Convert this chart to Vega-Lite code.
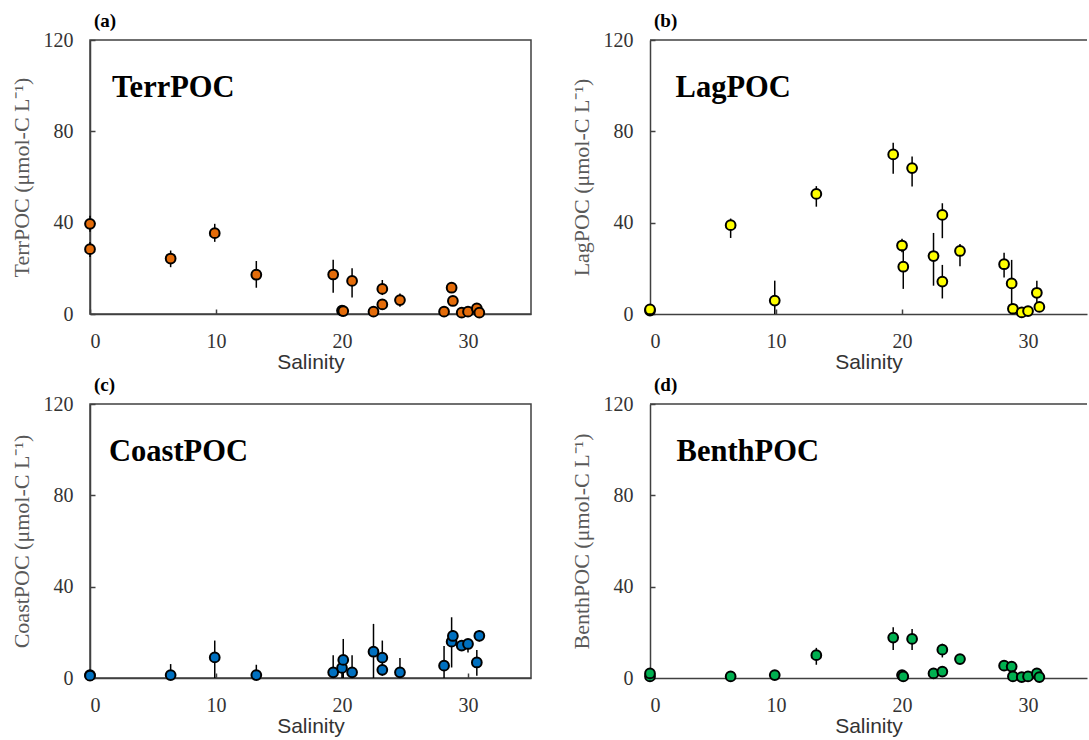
{
  "$schema": "https://vega.github.io/schema/vega-lite/v6.json",
  "background": "white",
  "padding": {"left": 9, "top": 11, "right": 0, "bottom": 0},
  "config": {
    "view": {"stroke": "#404040", "strokeWidth": 1.5}
  },
  "datasets": {
    "poc": [
      {"panel": "a", "salinity": 0, "value": 39.5, "lo": 36, "hi": 43},
      {"panel": "a", "salinity": 0, "value": 28.4, "lo": 25, "hi": 31.5},
      {"panel": "a", "salinity": 6.4, "value": 24.3, "lo": 20.5, "hi": 27.8},
      {"panel": "a", "salinity": 9.9, "value": 35.4, "lo": 31.6, "hi": 39.5},
      {"panel": "a", "salinity": 13.2, "value": 17.2, "lo": 11.5, "hi": 23.2},
      {"panel": "a", "salinity": 19.3, "value": 17.3, "lo": 9.3, "hi": 23.8},
      {"panel": "a", "salinity": 20.0, "value": 1.5, "lo": 1, "hi": 2},
      {"panel": "a", "salinity": 20.1, "value": 1.3, "lo": 0.5, "hi": 2},
      {"panel": "a", "salinity": 20.8, "value": 14.5, "lo": 7.2, "hi": 20},
      {"panel": "a", "salinity": 22.5, "value": 1, "lo": 0.5, "hi": 1.5},
      {"panel": "a", "salinity": 23.2, "value": 11, "lo": 8.3, "hi": 14.9},
      {"panel": "a", "salinity": 23.2, "value": 4.2, "lo": 2, "hi": 6},
      {"panel": "a", "salinity": 24.6, "value": 6.1, "lo": 3.2, "hi": 9},
      {"panel": "a", "salinity": 28.1, "value": 1, "lo": 0.5, "hi": 1.5},
      {"panel": "a", "salinity": 28.7, "value": 11.5, "lo": 10, "hi": 13},
      {"panel": "a", "salinity": 28.8, "value": 5.7, "lo": 4, "hi": 7.5},
      {"panel": "a", "salinity": 29.5, "value": 0.6, "lo": 0.3, "hi": 1},
      {"panel": "a", "salinity": 30.0, "value": 1, "lo": 0.5, "hi": 1.5},
      {"panel": "a", "salinity": 30.7, "value": 2.5, "lo": 1.5, "hi": 3.5},
      {"panel": "a", "salinity": 30.9, "value": 0.6, "lo": 0.3, "hi": 1},

      {"panel": "b", "salinity": 0, "value": 1.5, "lo": 1, "hi": 2},
      {"panel": "b", "salinity": 0, "value": 2, "lo": 1.5, "hi": 2.5},
      {"panel": "b", "salinity": 6.4, "value": 38.9, "lo": 33.3, "hi": 41.8},
      {"panel": "b", "salinity": 9.9, "value": 5.9, "lo": 0, "hi": 14.6},
      {"panel": "b", "salinity": 13.2, "value": 52.6, "lo": 47, "hi": 56},
      {"panel": "b", "salinity": 19.3, "value": 69.9, "lo": 61.4, "hi": 75},
      {"panel": "b", "salinity": 20.0, "value": 30, "lo": 27, "hi": 33},
      {"panel": "b", "salinity": 20.1, "value": 20.7, "lo": 11, "hi": 27.8},
      {"panel": "b", "salinity": 20.8, "value": 63.9, "lo": 55.8, "hi": 69},
      {"panel": "b", "salinity": 22.5, "value": 25.4, "lo": 12.4, "hi": 35.5},
      {"panel": "b", "salinity": 23.2, "value": 43.4, "lo": 33.2, "hi": 48.5},
      {"panel": "b", "salinity": 23.2, "value": 14.2, "lo": 6.8, "hi": 21.5},
      {"panel": "b", "salinity": 24.6, "value": 27.6, "lo": 20.9, "hi": 30.7},
      {"panel": "b", "salinity": 28.1, "value": 21.8, "lo": 16, "hi": 26.8},
      {"panel": "b", "salinity": 28.7, "value": 13.4, "lo": 2.9, "hi": 23.7},
      {"panel": "b", "salinity": 28.8, "value": 2.3, "lo": 1, "hi": 3.5},
      {"panel": "b", "salinity": 29.5, "value": 0.7, "lo": 0.3, "hi": 1.1},
      {"panel": "b", "salinity": 30.0, "value": 1.3, "lo": 0.8, "hi": 1.8},
      {"panel": "b", "salinity": 30.7, "value": 9.3, "lo": 5, "hi": 14.6},
      {"panel": "b", "salinity": 30.9, "value": 3.1, "lo": 1.5, "hi": 4.7},

      {"panel": "c", "salinity": 0, "value": 1.3, "lo": 0.8, "hi": 1.8},
      {"panel": "c", "salinity": 0, "value": 1.0, "lo": 0.5, "hi": 1.5},
      {"panel": "c", "salinity": 6.4, "value": 1.3, "lo": 0, "hi": 6.1},
      {"panel": "c", "salinity": 9.9, "value": 9, "lo": 0, "hi": 16.4},
      {"panel": "c", "salinity": 13.2, "value": 1.3, "lo": 0, "hi": 5.8},
      {"panel": "c", "salinity": 19.3, "value": 2.5, "lo": 0, "hi": 10},
      {"panel": "c", "salinity": 20.0, "value": 4.4, "lo": 0, "hi": 9},
      {"panel": "c", "salinity": 20.1, "value": 7.9, "lo": 0, "hi": 17.1},
      {"panel": "c", "salinity": 20.8, "value": 2.5, "lo": 0, "hi": 10},
      {"panel": "c", "salinity": 22.5, "value": 11.5, "lo": 0, "hi": 23.7},
      {"panel": "c", "salinity": 23.2, "value": 8.9, "lo": 1.5, "hi": 16.4},
      {"panel": "c", "salinity": 23.2, "value": 3.6, "lo": 1, "hi": 6},
      {"panel": "c", "salinity": 24.6, "value": 2.5, "lo": 0, "hi": 8.8},
      {"panel": "c", "salinity": 28.1, "value": 5.4, "lo": 0, "hi": 14},
      {"panel": "c", "salinity": 28.7, "value": 15.9, "lo": 4.6, "hi": 26.6},
      {"panel": "c", "salinity": 28.8, "value": 18.4, "lo": 15, "hi": 21},
      {"panel": "c", "salinity": 29.5, "value": 14.2, "lo": 12, "hi": 16},
      {"panel": "c", "salinity": 30.0, "value": 14.9, "lo": 11.2, "hi": 17},
      {"panel": "c", "salinity": 30.7, "value": 6.8, "lo": 1, "hi": 12.3},
      {"panel": "c", "salinity": 30.9, "value": 18.5, "lo": 16, "hi": 21},

      {"panel": "d", "salinity": 0, "value": 0.7, "lo": 0.3, "hi": 1.1},
      {"panel": "d", "salinity": 0, "value": 2, "lo": 1.5, "hi": 2.5},
      {"panel": "d", "salinity": 6.4, "value": 0.7, "lo": 0.3, "hi": 1.1},
      {"panel": "d", "salinity": 9.9, "value": 1.3, "lo": 0.8, "hi": 1.8},
      {"panel": "d", "salinity": 13.2, "value": 10, "lo": 5.8, "hi": 13.2},
      {"panel": "d", "salinity": 19.3, "value": 17.7, "lo": 12.3, "hi": 22.2},
      {"panel": "d", "salinity": 20.0, "value": 1.3, "lo": 0.8, "hi": 1.8},
      {"panel": "d", "salinity": 20.1, "value": 0.7, "lo": 0.3, "hi": 1.1},
      {"panel": "d", "salinity": 20.8, "value": 17.1, "lo": 12.3, "hi": 21.5},
      {"panel": "d", "salinity": 22.5, "value": 2, "lo": 1.5, "hi": 2.5},
      {"panel": "d", "salinity": 23.2, "value": 12.4, "lo": 9, "hi": 15},
      {"panel": "d", "salinity": 23.2, "value": 2.8, "lo": 2, "hi": 3.6},
      {"panel": "d", "salinity": 24.6, "value": 8.3, "lo": 7, "hi": 9.6},
      {"panel": "d", "salinity": 28.1, "value": 5.4, "lo": 4.5, "hi": 6.3},
      {"panel": "d", "salinity": 28.7, "value": 5, "lo": 4, "hi": 6},
      {"panel": "d", "salinity": 28.8, "value": 0.7, "lo": 0.3, "hi": 1.1},
      {"panel": "d", "salinity": 29.5, "value": 0.4, "lo": 0.2, "hi": 0.6},
      {"panel": "d", "salinity": 30.0, "value": 0.7, "lo": 0.3, "hi": 1.1},
      {"panel": "d", "salinity": 30.7, "value": 2, "lo": 1.5, "hi": 2.5},
      {"panel": "d", "salinity": 30.9, "value": 0.4, "lo": 0.2, "hi": 0.6}
    ]
  },
  "columns": 2,
  "spacing": {"row": 90, "column": 119},
  "bounds": "flush",
  "concat": [
    {
      "title": {"text": "(a)", "anchor": "start", "frame": "group", "font": "Liberation Serif", "fontSize": 19, "fontWeight": "bold", "color": "black", "offset": 2, "dx": 4, "dy": 3},
      "width": 441,
      "height": 274,
      "data": {"name": "poc"},
      "transform": [{"filter": "datum.panel === 'a'"}],
      "layer": [
        {
          "mark": {"type": "rule", "color": "black", "strokeWidth": 1.5},
          "encoding": {
            "x": {"field": "salinity", "type": "quantitative", "scale": {"domain": [0, 35], "nice": false, "zero": false},
                  "axis": {"title": "Salinity", "values": [0, 10, 20, 30], "grid": false, "tickSize": -5, "tickColor": "#404040", "tickWidth": 1.5, "domainColor": "#404040", "domainWidth": 1.5, "labelFont": "Liberation Serif", "labelFontSize": 20, "labelColor": "#333333", "labelPadding": 22, "titleFont": "Liberation Sans", "titleFontSize": 21, "titleFontWeight": "normal", "titleColor": "#333333", "titlePadding": 0}},
            "y": {"field": "lo", "type": "quantitative", "scale": {"domain": [0, 120], "nice": false},
                  "axis": {"title": "TerrPOC (μmol-C L⁻¹)", "values": [0, 40, 80, 120], "grid": false, "tickSize": -5, "tickColor": "#404040", "tickWidth": 1.5, "domainColor": "#404040", "domainWidth": 1.5, "labelFont": "Liberation Serif", "labelFontSize": 20, "labelColor": "#333333", "labelPadding": 22, "titleFont": "Liberation Serif", "titleFontSize": 22, "titleFontWeight": "normal", "titleColor": "#595959", "titlePadding": 10}},
            "y2": {"field": "hi"}
          }
        },
        {
          "mark": {"type": "point", "shape": "circle", "filled": true, "size": 95, "fill": "#E46C0A", "stroke": "black", "strokeWidth": 2, "opacity": 1},
          "encoding": {
            "x": {"field": "salinity", "type": "quantitative"},
            "y": {"field": "value", "type": "quantitative"}
          }
        },
        {
          "data": {"values": [{"name": "TerrPOC"}]},
          "mark": {"type": "text", "font": "Liberation Serif", "fontWeight": "bold", "fontSize": 30.5, "align": "left", "baseline": "alphabetic", "color": "black"},
          "encoding": {"x": {"datum": 1.75}, "y": {"datum": 95}, "text": {"field": "name"}}
        }
      ]
    },
    {
      "title": {"text": "(b)", "anchor": "start", "frame": "group", "font": "Liberation Serif", "fontSize": 19, "fontWeight": "bold", "color": "black", "offset": 2, "dx": 4, "dy": 3},
      "width": 437,
      "height": 274,
      "view": {"stroke": null},
      "data": {"name": "poc"},
      "transform": [{"filter": "datum.panel === 'b'"}],
      "layer": [
        {
          "data": {"values": [{"edge": 120}]},
          "mark": {"type": "rule", "color": "#404040", "strokeWidth": 1.5},
          "encoding": {"y": {"field": "edge", "type": "quantitative"}}
        },
        {
          "mark": {"type": "rule", "color": "black", "strokeWidth": 1.5},
          "encoding": {
            "x": {"field": "salinity", "type": "quantitative", "scale": {"domain": [0, 34.68], "nice": false, "zero": false},
                  "axis": {"title": "Salinity", "values": [0, 10, 20, 30], "grid": false, "tickSize": -5, "tickColor": "#404040", "tickWidth": 1.5, "domainColor": "#404040", "domainWidth": 1.5, "labelFont": "Liberation Serif", "labelFontSize": 20, "labelColor": "#333333", "labelPadding": 22, "titleFont": "Liberation Sans", "titleFontSize": 21, "titleFontWeight": "normal", "titleColor": "#333333", "titlePadding": 0}},
            "y": {"field": "lo", "type": "quantitative", "scale": {"domain": [0, 120], "nice": false},
                  "axis": {"title": "LagPOC (μmol-C L⁻¹)", "values": [0, 40, 80, 120], "grid": false, "tickSize": -5, "tickColor": "#404040", "tickWidth": 1.5, "domainColor": "#404040", "domainWidth": 1.5, "labelFont": "Liberation Serif", "labelFontSize": 20, "labelColor": "#333333", "labelPadding": 22, "titleFont": "Liberation Serif", "titleFontSize": 22, "titleFontWeight": "normal", "titleColor": "#595959", "titlePadding": 10}},
            "y2": {"field": "hi"}
          }
        },
        {
          "mark": {"type": "point", "shape": "circle", "filled": true, "size": 95, "fill": "#FFFF00", "stroke": "black", "strokeWidth": 2, "opacity": 1},
          "encoding": {
            "x": {"field": "salinity", "type": "quantitative"},
            "y": {"field": "value", "type": "quantitative"}
          }
        },
        {
          "data": {"values": [{"name": "LagPOC"}]},
          "mark": {"type": "text", "font": "Liberation Serif", "fontWeight": "bold", "fontSize": 30.5, "align": "left", "baseline": "alphabetic", "color": "black"},
          "encoding": {"x": {"datum": 2.03}, "y": {"datum": 95}, "text": {"field": "name"}}
        }
      ]
    },
    {
      "title": {"text": "(c)", "anchor": "start", "frame": "group", "font": "Liberation Serif", "fontSize": 19, "fontWeight": "bold", "color": "black", "offset": 2, "dx": 4, "dy": 3},
      "width": 441,
      "height": 274,
      "data": {"name": "poc"},
      "transform": [{"filter": "datum.panel === 'c'"}],
      "layer": [
        {
          "mark": {"type": "rule", "color": "black", "strokeWidth": 1.5},
          "encoding": {
            "x": {"field": "salinity", "type": "quantitative", "scale": {"domain": [0, 35], "nice": false, "zero": false},
                  "axis": {"title": "Salinity", "values": [0, 10, 20, 30], "grid": false, "tickSize": -5, "tickColor": "#404040", "tickWidth": 1.5, "domainColor": "#404040", "domainWidth": 1.5, "labelFont": "Liberation Serif", "labelFontSize": 20, "labelColor": "#333333", "labelPadding": 22, "titleFont": "Liberation Sans", "titleFontSize": 21, "titleFontWeight": "normal", "titleColor": "#333333", "titlePadding": 0}},
            "y": {"field": "lo", "type": "quantitative", "scale": {"domain": [0, 120], "nice": false},
                  "axis": {"title": "CoastPOC (μmol-C L⁻¹)", "values": [0, 40, 80, 120], "grid": false, "tickSize": -5, "tickColor": "#404040", "tickWidth": 1.5, "domainColor": "#404040", "domainWidth": 1.5, "labelFont": "Liberation Serif", "labelFontSize": 20, "labelColor": "#333333", "labelPadding": 22, "titleFont": "Liberation Serif", "titleFontSize": 22, "titleFontWeight": "normal", "titleColor": "#595959", "titlePadding": 10}},
            "y2": {"field": "hi"}
          }
        },
        {
          "mark": {"type": "point", "shape": "circle", "filled": true, "size": 95, "fill": "#0070C0", "stroke": "black", "strokeWidth": 2, "opacity": 1},
          "encoding": {
            "x": {"field": "salinity", "type": "quantitative"},
            "y": {"field": "value", "type": "quantitative"}
          }
        },
        {
          "data": {"values": [{"name": "CoastPOC"}]},
          "mark": {"type": "text", "font": "Liberation Serif", "fontWeight": "bold", "fontSize": 30.5, "align": "left", "baseline": "alphabetic", "color": "black"},
          "encoding": {"x": {"datum": 1.51}, "y": {"datum": 95}, "text": {"field": "name"}}
        }
      ]
    },
    {
      "title": {"text": "(d)", "anchor": "start", "frame": "group", "font": "Liberation Serif", "fontSize": 19, "fontWeight": "bold", "color": "black", "offset": 2, "dx": 4, "dy": 3},
      "width": 437,
      "height": 274,
      "view": {"stroke": null},
      "data": {"name": "poc"},
      "transform": [{"filter": "datum.panel === 'd'"}],
      "layer": [
        {
          "data": {"values": [{"edge": 120}]},
          "mark": {"type": "rule", "color": "#404040", "strokeWidth": 1.5},
          "encoding": {"y": {"field": "edge", "type": "quantitative"}}
        },
        {
          "mark": {"type": "rule", "color": "black", "strokeWidth": 1.5},
          "encoding": {
            "x": {"field": "salinity", "type": "quantitative", "scale": {"domain": [0, 34.68], "nice": false, "zero": false},
                  "axis": {"title": "Salinity", "values": [0, 10, 20, 30], "grid": false, "tickSize": -5, "tickColor": "#404040", "tickWidth": 1.5, "domainColor": "#404040", "domainWidth": 1.5, "labelFont": "Liberation Serif", "labelFontSize": 20, "labelColor": "#333333", "labelPadding": 22, "titleFont": "Liberation Sans", "titleFontSize": 21, "titleFontWeight": "normal", "titleColor": "#333333", "titlePadding": 0}},
            "y": {"field": "lo", "type": "quantitative", "scale": {"domain": [0, 120], "nice": false},
                  "axis": {"title": "BenthPOC (μmol-C L⁻¹)", "values": [0, 40, 80, 120], "grid": false, "tickSize": -5, "tickColor": "#404040", "tickWidth": 1.5, "domainColor": "#404040", "domainWidth": 1.5, "labelFont": "Liberation Serif", "labelFontSize": 20, "labelColor": "#333333", "labelPadding": 22, "titleFont": "Liberation Serif", "titleFontSize": 22, "titleFontWeight": "normal", "titleColor": "#595959", "titlePadding": 10}},
            "y2": {"field": "hi"}
          }
        },
        {
          "mark": {"type": "point", "shape": "circle", "filled": true, "size": 95, "fill": "#00B050", "stroke": "black", "strokeWidth": 2, "opacity": 1},
          "encoding": {
            "x": {"field": "salinity", "type": "quantitative"},
            "y": {"field": "value", "type": "quantitative"}
          }
        },
        {
          "data": {"values": [{"name": "BenthPOC"}]},
          "mark": {"type": "text", "font": "Liberation Serif", "fontWeight": "bold", "fontSize": 30.5, "align": "left", "baseline": "alphabetic", "color": "black"},
          "encoding": {"x": {"datum": 2.11}, "y": {"datum": 95}, "text": {"field": "name"}}
        }
      ]
    }
  ]
}
